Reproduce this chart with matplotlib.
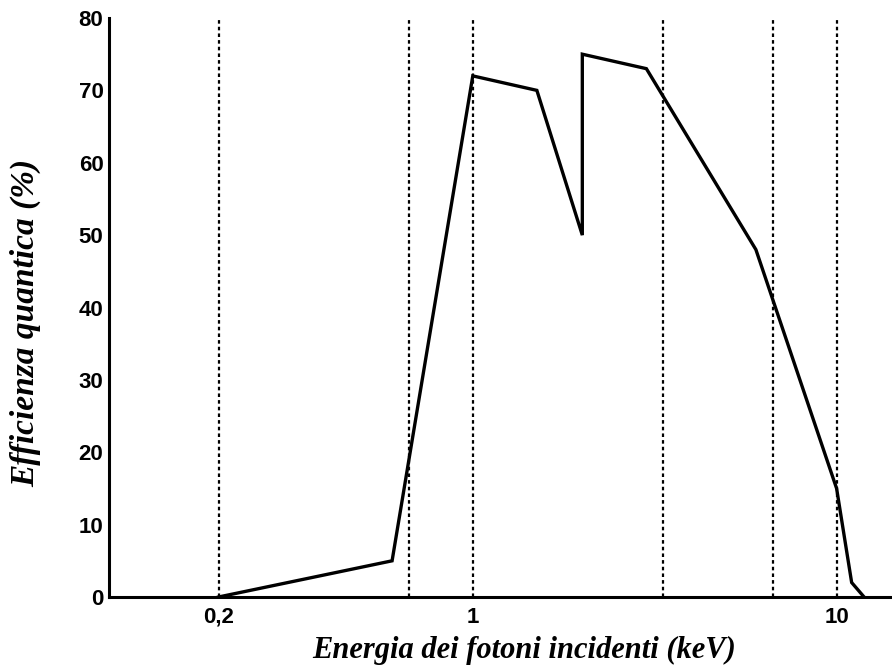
import numpy as np
import matplotlib
matplotlib.use('Agg')
import matplotlib.pyplot as plt
from matplotlib.ticker import FixedLocator, NullLocator

# data
energy = [0.2, 0.6, 1.0, 1.5, 2.0, 2.0, 3.0, 6.0, 10.0, 11.0, 11.9]
efficiency = [0, 5, 72, 70, 50, 75, 73, 48, 15, 2, 0]

guide_lines = [0.2, 0.667, 1.0, 3.33, 6.67, 10.0]
xtick_vals = [0.2, 1, 10]
xtick_labels = ['0,2', '1', '10']
ytick_vals = [0, 10, 20, 30, 40, 50, 60, 70, 80]


def main():
    fig = plt.figure(figsize=(8.92, 6.69), dpi=100)
    ax = fig.add_axes([109 / 892, 72 / 669, 1 - 109 / 892, (597 - 18) / 669])

    for xv in guide_lines:
        ax.plot([xv, xv], [0, 79.7], color='black', lw=1.6,
                linestyle=(0, (1.6, 1.4)), zorder=1)

    ax.plot(energy, efficiency, color='black', lw=2.4, zorder=3,
            solid_joinstyle='miter')

    ax.set_xscale('log')
    ax.set_xlim(0.1, 14.2)
    ax.set_ylim(0, 80)

    ax.xaxis.set_major_locator(FixedLocator(xtick_vals))
    ax.xaxis.set_minor_locator(NullLocator())
    ax.set_xticklabels(xtick_labels)
    ax.set_yticks(ytick_vals)

    ax.tick_params(axis='x', length=0, pad=7, labelsize=16)
    ax.tick_params(axis='y', length=0, pad=4, labelsize=16)
    for lab in ax.get_xticklabels() + ax.get_yticklabels():
        lab.set_fontfamily('Liberation Sans')
        lab.set_fontweight('bold')

    ax.spines['top'].set_visible(False)
    ax.spines['right'].set_visible(False)
    ax.spines['left'].set_linewidth(2.2)
    ax.spines['bottom'].set_linewidth(2.2)

    fig.text(524 / 892, 1 - 650 / 669, 'Energia dei fotoni incidenti (keV)',
             ha='center', va='center', fontsize=22, fontfamily='Liberation Serif',
             fontweight='bold', fontstyle='italic')
    fig.text(26 / 892, 1 - 323 / 669, 'Efficienza quantica (%)',
             ha='center', va='center', rotation=90, fontsize=24,
             fontfamily='Liberation Serif', fontweight='bold', fontstyle='italic')

    fig.savefig('out.png', dpi=100)
    plt.close(fig)


if __name__ == "__main__":
    main()
